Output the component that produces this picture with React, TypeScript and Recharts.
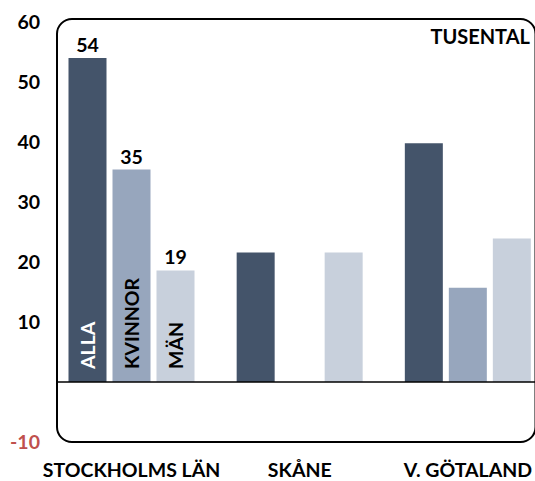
import React from "react";
import {
  BarChart,
  Bar,
  XAxis,
  YAxis,
  LabelList,
  ReferenceArea,
  ReferenceLine,
} from "recharts";

const regions = ["STOCKHOLMS LÄN", "SKÅNE", "V. GÖTALAND"];
const alla = [54, 21.6, 39.8];
const kvinnor = [35.4, null, 15.7];
const man = [18.6, 21.6, 23.9];
const yTicks = [-10, 10, 20, 30, 40, 50, 60];
const seriesNames = ["ALLA", "KVINNOR", "MÄN"];

const data = regions.map((region, i) => ({
  region,
  alla: alla[i],
  kvinnor: kvinnor[i],
  man: man[i],
}));

const FONT = "Lato, 'Open Sans', sans-serif";
const FS = 19.5;

const YTick = (props: any) => {
  const { x, y, payload } = props;
  return (
    <text
      x={x}
      y={y}
      dy="0.36em"
      textAnchor="end"
      fontFamily={FONT}
      fontWeight={700}
      fontSize={FS}
      fill={payload.value < 0 ? "#c0504d" : "#000"}
    >
      {payload.value}
    </text>
  );
};

const XTick = (props: any) => {
  const { x, y, payload } = props;
  return (
    <text
      x={x}
      y={y}
      dy="0.36em"
      textAnchor="middle"
      fontFamily={FONT}
      fontWeight={700}
      fontSize={FS}
      fill="#000"
    >
      {payload.value}
    </text>
  );
};

// value above the bar, first group only
const valueLabel = (props: any) => {
  const { x, y, width, value, index } = props;
  if (index !== 0 || value == null) return null;
  return (
    <text
      x={x + width / 2}
      y={y - 6}
      textAnchor="middle"
      fontFamily={FONT}
      fontWeight={700}
      fontSize={FS}
      fill="#000"
    >
      {Math.round(value)}
    </text>
  );
};

// rotated series name inside the bar, first group only
const nameLabel = (name: string, color: string) => (props: any) => {
  const { x, y, width, height, index } = props;
  if (index !== 0) return null;
  const cx = x + width / 2;
  const by = y + height - 13;
  return (
    <text
      x={cx}
      y={by}
      transform={`rotate(-90 ${cx} ${by})`}
      textAnchor="start"
      dominantBaseline="central"
      fontFamily={FONT}
      fontWeight={700}
      fontSize={FS}
      fill={color}
    >
      {name}
    </text>
  );
};

const BoxShape = (props: any) => {
  const { x, y, width, height } = props;
  return (
    <rect
      x={x + 9.5}
      y={y}
      width={width - 26}
      height={height}
      rx={15}
      ry={15}
      fill="none"
      stroke="#000"
      strokeWidth={2}
    />
  );
};

const ZeroLine = (props: any) => {
  const { x1, x2, y1, y2 } = props;
  return (
    <line
      x1={x1 + 9.5}
      x2={x2 - 16.5}
      y1={y1}
      y2={y2}
      stroke="#000"
      strokeWidth={1.5}
    />
  );
};

export default function App() {
  return (
    <div
      style={{
        position: "absolute",
        left: 0,
        top: 0,
        width: 535,
        height: 481,
        overflow: "hidden",
        background: "#fff",
      }}
    >
      <BarChart
        width={560}
        height={481}
        data={data}
        margin={{ top: 22, right: 8, left: 0, bottom: 0 }}
        barGap={6}
        barCategoryGap={21}
      >
        <ReferenceArea
          x1={regions[0]}
          x2={regions[regions.length - 1]}
          y1={-10}
          y2={60.5}
          ifOverflow="visible"
          shape={BoxShape}
        />
        <XAxis
          dataKey="region"
          height={39}
          axisLine={false}
          tickLine={false}
          tickSize={0}
          tickMargin={0}
          tick={(p: any) => <XTick {...p} y={470} />}
          interval={0}
        />
        <YAxis
          width={47.5}
          domain={[-10, 60]}
          ticks={yTicks}
          axisLine={false}
          tickLine={false}
          tickSize={0}
          tickMargin={7.5}
          tick={YTick}
          interval={0}
        />
        <Bar dataKey="alla" fill="#44546a" isAnimationActive={false}>
          <LabelList content={valueLabel} />
          <LabelList content={nameLabel(seriesNames[0], "#fff")} />
        </Bar>
        <Bar dataKey="kvinnor" fill="#97a6bd" isAnimationActive={false}>
          <LabelList content={valueLabel} />
          <LabelList content={nameLabel(seriesNames[1], "#000")} />
        </Bar>
        <Bar dataKey="man" fill="#c8d0dc" isAnimationActive={false}>
          <LabelList content={valueLabel} />
          <LabelList content={nameLabel(seriesNames[2], "#000")} />
        </Bar>
        <ReferenceLine y={0} ifOverflow="visible" shape={ZeroLine} />
      </BarChart>
      <div
        style={{
          position: "absolute",
          right: 5,
          top: 26,
          lineHeight: "20px",
          fontFamily: FONT,
          fontWeight: 700,
          fontSize: 20,
          color: "#000",
        }}
      >
        TUSENTAL
      </div>
    </div>
  );
}
